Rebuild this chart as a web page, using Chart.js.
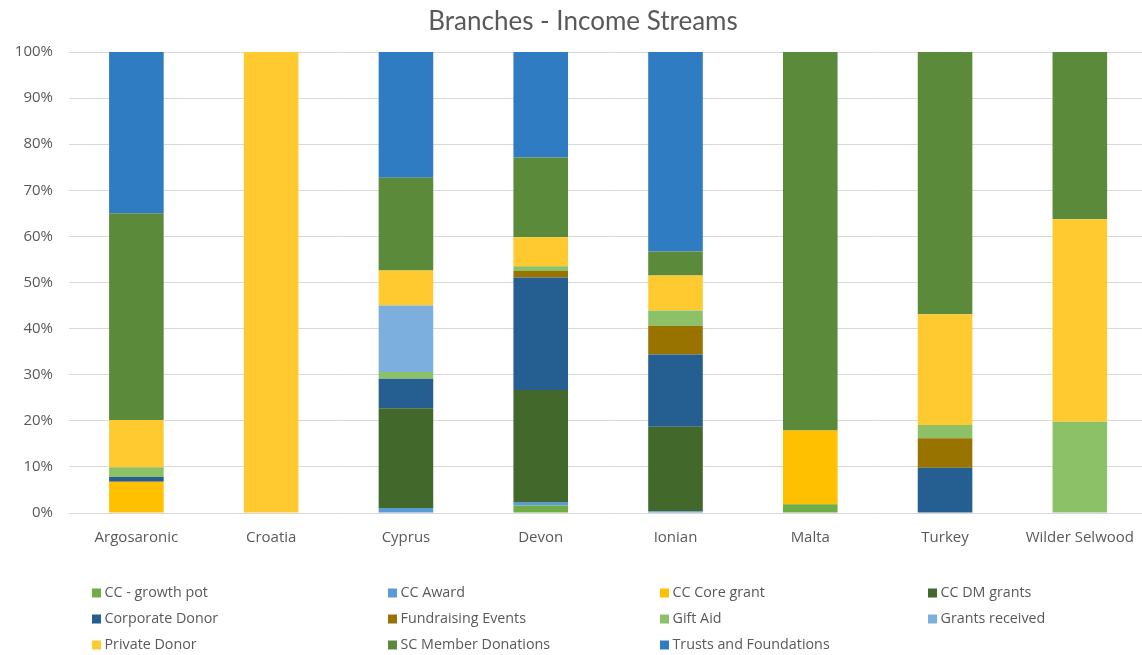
<!DOCTYPE html>
<html>
<head>
<meta charset="utf-8">
<title>Branches - Income Streams</title>
<script src="https://cdn.jsdelivr.net/npm/chart.js@4/dist/chart.umd.min.js"></script>
<style>
  html, body { margin: 0; padding: 0; background: #ffffff; overflow: hidden; }
  #wrap { width: 1150px; height: 655px; }
</style>
</head>
<body>
<div id="wrap"><canvas id="chart" width="1150" height="655"></canvas></div>
<script>
// Branches along the category axis
const branches = ['Argosaronic', 'Croatia', 'Cyprus', 'Devon', 'Ionian', 'Malta', 'Turkey', 'Wilder Selwood'];

// Share of each income stream per branch (%), stacked bottom to top
const ccGrowthPot        = [0,    0,   0,    1.6,  0,    1.9,  0,    0];
const ccAward            = [0,    0,   1.1,  0.8,  0.4,  0,    0,    0];
const ccCoreGrant        = [6.8,  0,   0,    0,    0,    16.0, 0,    0];
const ccDmGrants         = [0,    0,   21.6, 24.3, 18.3, 0,    0,    0];
const corporateDonor     = [1.0,  0,   6.4,  24.4, 15.7, 0,    9.8,  0];
const fundraisingEvents  = [0,    0,   0,    1.4,  6.2,  0,    6.4,  0];
const giftAid            = [2.1,  0,   1.5,  1.0,  3.3,  0,    2.9,  19.8];
const grantsReceived     = [0,    0,   14.4, 0,    0,    0,    0,    0];
const privateDonor       = [10.3, 100, 7.6,  6.3,  7.6,  0,    24.0, 43.9];
const scMemberDonations  = [44.8, 0,   20.1, 17.3, 5.2,  82.1, 56.9, 36.3];
const trustsFoundations  = [35.0, 0,   27.3, 22.9, 43.3, 0,    0,    0];

// Axis ticks (percent)
const yTicks = [0, 10, 20, 30, 40, 50, 60, 70, 80, 90, 100];

const series = [
  { label: 'CC - growth pot',        data: ccGrowthPot,       color: '#70AD47' },
  { label: 'CC Award',               data: ccAward,           color: '#5B9BD5' },
  { label: 'CC Core grant',          data: ccCoreGrant,       color: '#FFC000' },
  { label: 'CC DM grants',           data: ccDmGrants,        color: '#43682B' },
  { label: 'Corporate Donor',        data: corporateDonor,    color: '#255E91' },
  { label: 'Fundraising Events',     data: fundraisingEvents, color: '#997300' },
  { label: 'Gift Aid',               data: giftAid,           color: '#8CC168' },
  { label: 'Grants received',        data: grantsReceived,    color: '#7CAFDD' },
  { label: 'Private Donor',          data: privateDonor,      color: '#FFCA30' },
  { label: 'SC Member Donations',    data: scMemberDonations, color: '#5B8B3A' },
  { label: 'Trusts and Foundations', data: trustsFoundations, color: '#307CC2' }
];

const TEXT = '#595959';
const FONT = '"Open Sans", sans-serif';
const TITLE_FONT = 'Lato, "Open Sans", sans-serif';
const TITLE = 'Branches - Income Streams';

// Title centred over the whole figure, above the plot
const chartTitle = {
  id: 'chartTitle',
  afterDraw(chart) {
    const ctx = chart.ctx;
    ctx.save();
    ctx.font = '26px ' + TITLE_FONT;
    ctx.fillStyle = TEXT;
    ctx.textAlign = 'center';
    ctx.textBaseline = 'middle';
    ctx.fillText(TITLE, 583, 22);
    ctx.restore();
  }
};

// Legend drawn as a four-column grid beneath the axis
const gridLegend = {
  id: 'gridLegend',
  afterDraw(chart) {
    const ctx = chart.ctx;
    const colX = [92, 388, 660, 928];
    const rowY = [593, 619, 645];
    ctx.save();
    ctx.font = '14.3px ' + FONT;
    ctx.textBaseline = 'middle';
    ctx.textAlign = 'left';
    chart.data.datasets.forEach((ds, i) => {
      const x = colX[i % 4];
      const y = rowY[Math.floor(i / 4)];
      ctx.fillStyle = ds.backgroundColor;
      ctx.fillRect(x, y - 4.5, 9, 9);
      ctx.fillStyle = TEXT;
      ctx.fillText(ds.label, x + 12.5, y);
    });
    ctx.restore();
  }
};

new Chart(document.getElementById('chart'), {
  type: 'bar',
  data: {
    labels: branches,
    datasets: series.map(s => ({
      label: s.label,
      data: s.data,
      backgroundColor: s.color,
      borderWidth: 0,
      barPercentage: 0.405,
      categoryPercentage: 1.0
    }))
  },
  options: {
    responsive: false,
    devicePixelRatio: 1,
    animation: false,
    layout: { padding: { top: 52, left: 0, right: 0, bottom: 102 } },
    plugins: {
      legend: { display: false },
      tooltip: { enabled: false },
      title: { display: false }
    },
    scales: {
      x: {
        stacked: true,
        grid: { display: false, drawTicks: false },
        border: { display: false },
        ticks: { color: TEXT, font: { family: FONT, size: 15 }, padding: 16, maxRotation: 0 },
        afterFit(scale) { scale.height = 40; }
      },
      y: {
        stacked: true,
        min: 0,
        max: 100,
        afterBuildTicks(scale) { scale.ticks = yTicks.map(v => ({ value: v })); },
        grid: { color: '#D9D9D9', lineWidth: 1, drawTicks: false },
        border: { display: false },
        ticks: {
          color: TEXT,
          font: { family: FONT, size: 15 },
          padding: 16,
          callback: v => v + '%'
        },
        afterFit(scale) { scale.width = 69; }
      }
    }
  },
  plugins: [chartTitle, gridLegend]
});
</script>
</body>
</html>
